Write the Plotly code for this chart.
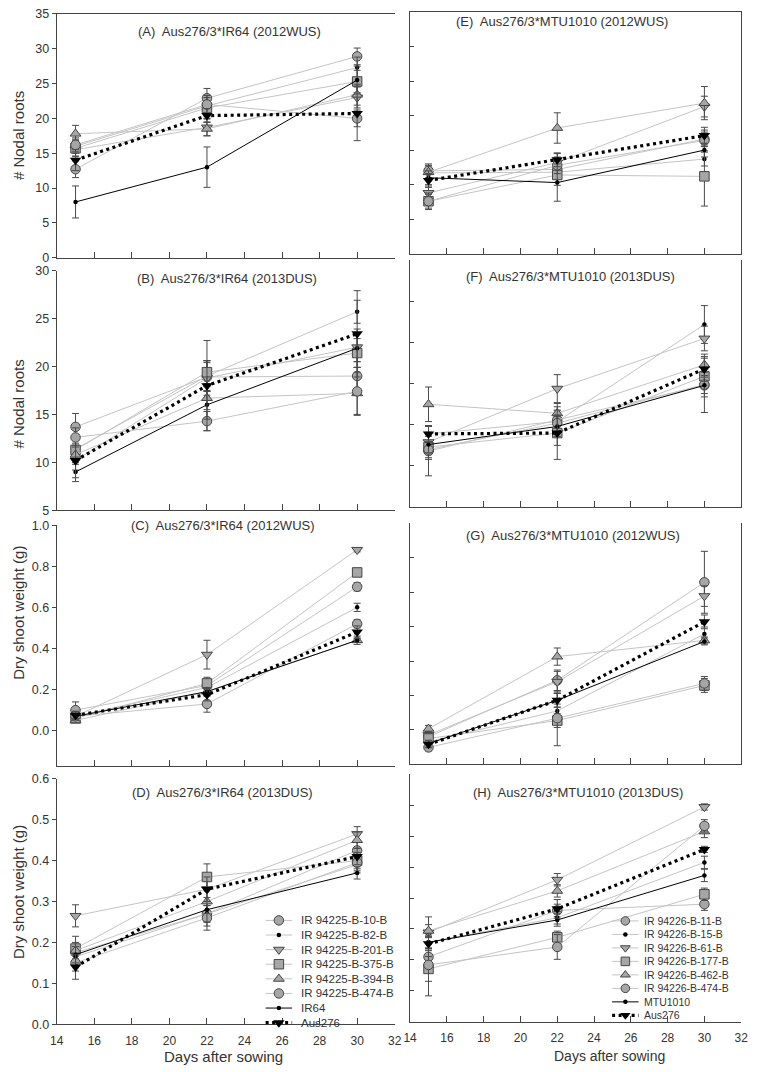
import plotly.graph_objects as go

days = [15, 22, 30]
ir64_names = ["IR 94225-B-10-B", "IR 94225-B-82-B", "IR 94225-B-201-B", "IR 94225-B-375-B",
              "IR 94225-B-394-B", "IR 94225-B-474-B", "IR64", "Aus276"]
mtu_names = ["IR 94226-B-11-B", "IR 94226-B-15-B", "IR 94226-B-61-B", "IR 94226-B-177-B",
             "IR 94226-B-462-B", "IR 94226-B-474-B", "MTU1010", "Aus276"]

# (A) nodal roots, Aus276/3*IR64, 2012WUS
roots_ir64_12 = [[12.7, 22.9, 28.9], [16.0, 21.8, 27.3], [15.5, 18.7, 23.0], [15.7, 21.5, 25.3],
                 [17.8, 18.5, 23.4], [16.2, 22.0, 20.0], [8.0, 13.0, 25.5], [14.0, 20.4, 20.7]]
roots_ir64_12_se = [[1.2, 1.4, 1.2], [1.0, 1.5, 1.5], [1.0, 1.2, 1.5], [1.1, 1.5, 1.6],
                    [1.2, 1.0, 1.5], [1.0, 1.3, 1.2], [2.3, 2.9, 2.0], [1.5, 1.0, 3.9]]
# (B) nodal roots, Aus276/3*IR64, 2013DUS
roots_ir64_13 = [[13.7, 18.9, 19.0], [11.4, 19.0, 25.7], [10.2, 18.8, 22.0], [11.3, 19.4, 21.4],
                 [10.8, 16.7, 17.2], [12.6, 14.3, 17.4], [9.0, 16.0, 21.9], [10.2, 18.0, 23.4]]
roots_ir64_13_se = [[1.4, 1.5, 1.5], [1.0, 1.6, 1.2], [1.0, 1.8, 1.5], [1.0, 1.2, 1.5],
                    [1.0, 1.2, 2.2], [1.0, 1.0, 2.5], [1.0, 1.5, 2.0], [1.8, 4.7, 4.5]]
# (C) dry shoot weight, Aus276/3*IR64, 2012WUS
dsw_ir64_12 = [[0.10, 0.22, 0.70], [0.07, 0.21, 0.60], [0.07, 0.37, 0.88], [0.06, 0.23, 0.77],
               [0.05, 0.19, 0.44], [0.07, 0.13, 0.52], [0.07, 0.19, 0.44], [0.075, 0.175, 0.48]]
dsw_ir64_12_se = [[0.04, 0.03, 0.02], [0.02, 0.03, 0.02], [0.02, 0.07, 0.01], [0.02, 0.03, 0.01],
                  [0.01, 0.02, 0.01], [0.02, 0.04, 0.02], [0.01, 0.02, 0.02], [0.02, 0.03, 0.03]]
# (D) dry shoot weight, Aus276/3*IR64, 2013DUS
dsw_ir64_13 = [[0.175, 0.27, 0.425], [0.165, 0.27, 0.39], [0.265, 0.33, 0.465], [0.185, 0.36, 0.40],
               [0.18, 0.30, 0.45], [0.15, 0.26, 0.395], [0.17, 0.28, 0.37], [0.14, 0.33, 0.41]]
dsw_ir64_13_se = [[0.02, 0.03, 0.02], [0.02, 0.02, 0.02], [0.027, 0.03, 0.018], [0.03, 0.032, 0.02],
                  [0.02, 0.03, 0.02], [0.02, 0.03, 0.02], [0.02, 0.03, 0.015], [0.03, 0.03, 0.02]]
# (E) nodal roots, Aus276/3*MTU1010, 2012WUS
roots_mtu_12 = [[12.0, 12.2, 16.6], [11.7, 11.8, 13.7], [8.8, 13.2, 21.3], [7.6, 11.4, 11.2],
                [11.8, 18.2, 21.8], [7.6, 12.8, 16.4], [11.0, 10.3, 15.0], [10.6, 13.6, 17.1]]
roots_mtu_12_se = [[1.0, 1.2, 1.0], [1.0, 1.0, 1.0], [1.0, 1.3, 1.5], [1.0, 1.5, 4.3],
                   [1.0, 2.2, 2.4], [1.2, 1.2, 1.5], [1.0, 2.7, 1.0], [1.0, 1.0, 1.2]]
# (F) nodal roots, Aus276/3*MTU1010, 2013DUS
roots_mtu_13 = [[6.8, 10.6, 14.8], [8.9, 10.4, 22.2], [7.9, 14.4, 20.5], [7.3, 9.0, 15.9],
                [12.5, 11.4, 17.3], [7.0, 10.2, 14.9], [7.6, 9.8, 14.8], [8.9, 9.0, 16.8]]
roots_mtu_13_se = [[3.0, 1.2, 3.3], [1.0, 1.3, 2.3], [1.2, 1.7, 1.5], [1.5, 1.5, 1.2],
                   [2.1, 1.2, 1.3], [1.0, 1.0, 1.5], [1.0, 1.2, 1.0], [1.0, 3.2, 1.5]]
# (G) dry shoot weight, Aus276/3*MTU1010, 2012WUS
dsw_mtu_12 = [[0.08, 0.244, 0.529], [0.065, 0.155, 0.379], [0.085, 0.24, 0.489], [0.075, 0.127, 0.229],
              [0.103, 0.313, 0.36], [0.049, 0.134, 0.235], [0.06, 0.186, 0.357], [0.058, 0.186, 0.414]]
dsw_mtu_12_se = [[0.01, 0.03, 0.09], [0.01, 0.02, 0.02], [0.01, 0.03, 0.03], [0.01, 0.02, 0.02],
                 [0.01, 0.025, 0.01], [0.01, 0.08, 0.02], [0.01, 0.02, 0.01], [0.01, 0.02, 0.02]]
# (H) dry shoot weight, Aus276/3*MTU1010, 2013DUS
dsw_mtu_13 = [[0.21, 0.36, 0.38], [0.257, 0.336, 0.515], [0.289, 0.459, 0.694], [0.171, 0.273, 0.412],
              [0.294, 0.423, 0.615], [0.184, 0.242, 0.633], [0.257, 0.329, 0.473], [0.252, 0.365, 0.557]]
dsw_mtu_13_se = [[0.02, 0.02, 0.02], [0.02, 0.02, 0.02], [0.05, 0.02, 0.01], [0.04, 0.02, 0.02],
                 [0.02, 0.02, 0.02], [0.10, 0.04, 0.02], [0.02, 0.02, 0.02], [0.02, 0.03, 0.01]]

W, H = 758, 1072
FONT = "Liberation Sans, Arial, sans-serif"
TXT = "#333333"


def dom_x(a, b):
    return [a / W, b / W]


def dom_y(top, bot):
    return [1 - bot / H, 1 - top / H]


# panel layout: title, data, x/y domain in px, y range, y ticks, side, title pos
panels = [
    ("(A)  Aus276/3*IR64 (2012WUS)", roots_ir64_12, roots_ir64_12_se,
     (50.7, 395), (7, 254), [0, 35], list(range(0, 36, 5)), "left", (227, 25)),
    ("(B)  Aus276/3*IR64 (2013DUS)", roots_ir64_13, roots_ir64_13_se,
     (50.7, 395), (267, 510), [5, 30], list(range(5, 31, 5)), "left", (224, 275)),
    ("(C)  Aus276/3*IR64 (2012WUS)", dsw_ir64_12, dsw_ir64_12_se,
     (50.7, 395), (525, 769.3), [-0.173, 1.0], [0, 0.2, 0.4, 0.6, 0.8, 1.0], "left", (220, 525)),
    ("(D)  Aus276/3*IR64 (2013DUS)", dsw_ir64_13, dsw_ir64_13_se,
     (50.7, 395), (782, 1030.7), [0, 0.6], [0, 0.1, 0.2, 0.3, 0.4, 0.5, 0.6], "left", (220, 796)),
    ("(E)  Aus276/3*MTU1010 (2012WUS)", roots_mtu_12, roots_mtu_12_se,
     (410.7, 748), (5, 250), [0, 35], list(range(5, 31, 5)), "right", (565, 15)),
    ("(F)  Aus276/3*MTU1010 (2013DUS)", roots_mtu_13, roots_mtu_13_se,
     (410.7, 748), (256.7, 506.7), [0, 30], list(range(5, 26, 5)), "right", (574, 273)),
    ("(G)  Aus276/3*MTU1010 (2012WUS)", dsw_mtu_12, dsw_mtu_12_se,
     (410.7, 748), (523.3, 767.3), [0, 0.7], [0.1, 0.2, 0.3, 0.4, 0.5, 0.6], "right", (577, 535)),
    ("(H)  Aus276/3*MTU1010 (2013DUS)", dsw_mtu_13, dsw_mtu_13_se,
     (410.7, 748), (777.3, 1028.3), [0, 0.8], [0.1, 0.2, 0.3, 0.4, 0.5, 0.6, 0.7], "right", (582, 796)),
]

symbols = ["circle", "circle", "triangle-down", "square", "triangle-up", "circle", "circle", "triangle-down"]
GRAY_LINE = "#c4c4c4"
MK_FILL = "#a6a6a6"
MK_EDGE = "#454545"


def series_style(i, scale=1.0):
    if i == 7:  # Aus276
        return dict(line=dict(color="black", width=3.2, dash="3px,3.5px"),
                    marker=dict(symbol="triangle-down", size=10 * scale, color="black"))
    if i == 6:  # recurrent parent
        return dict(line=dict(color="black", width=1),
                    marker=dict(symbol="circle", size=4.5, color="black"))
    if i == 1:
        return dict(line=dict(color=GRAY_LINE, width=1),
                    marker=dict(symbol="circle", size=4.5, color="black"))
    return dict(line=dict(color=GRAY_LINE, width=1),
                marker=dict(symbol=symbols[i], size=9.5 * scale, color=MK_FILL,
                            line=dict(color=MK_EDGE, width=1)))


fig = go.Figure()
annotations = []
for k, (title, vals, errs, xd, yd, yr, yt, side, tpos) in enumerate(panels):
    n = k + 1
    xa = "x" if n == 1 else f"x{n}"
    ya = "y" if n == 1 else f"y{n}"
    for i in range(8):
        st = series_style(i)
        fig.add_trace(go.Scatter(
            x=days, y=vals[i], mode="lines+markers",
            line=st["line"], marker=st["marker"],
            error_y=dict(type="data", array=errs[i], color="#4a4a4a", thickness=1, width=3.5),
            xaxis=xa, yaxis=ya, showlegend=False,
        ))
    bottom = k in (3, 7)
    xkw = dict(domain=dom_x(*xd), range=[14, 32], tickvals=list(range(14, 33, 2)),
               ticks="inside", ticklen=6, tickcolor="#444", showline=True, linecolor="#444",
               linewidth=1, showgrid=False, zeroline=False, anchor=ya,
               showticklabels=bottom, tickfont=dict(family=FONT, size=12, color=TXT),
               ticklabelstandoff=5, mirror=(k == 0 or k == 4))
    ykw = dict(domain=dom_y(*yd), range=yr, tickvals=yt, showline=True, linecolor="#444",
               linewidth=1, showgrid=False, zeroline=False, anchor=xa, tickcolor="#444",
               ticklen=4, tickfont=dict(family=FONT, size=12.5, color=TXT))
    if side == "left":
        ykw.update(ticks="outside", showticklabels=True)
        if yr[1] <= 1.0:
            ykw["tickformat"] = ".1f"
    else:
        ykw.update(ticks="inside", showticklabels=False, mirror=(k in (4, 5, 6)))
    fig.update_layout(**{("xaxis" if n == 1 else f"xaxis{n}"): xkw,
                         ("yaxis" if n == 1 else f"yaxis{n}"): ykw})
    annotations.append(dict(text=title, x=tpos[0] / W, y=1 - tpos[1] / H, xref="paper", yref="paper",
                            showarrow=False, xanchor="center", yanchor="middle",
                            font=dict(family=FONT, size=13, color=TXT)))

# axis titles
for text, yc in [("# Nodal roots", 130), ("# Nodal roots", 402),
                 ("Dry shoot weight (g)", 614), ("Dry shoot weight (g)", 897)]:
    annotations.append(dict(text=text, x=12 / W, y=1 - yc / H, xref="paper", yref="paper",
                            showarrow=False, textangle=-90, xanchor="center", yanchor="middle",
                            font=dict(family=FONT, size=15, color=TXT)))
for xc, fs in [(221, 15), (614, 14)]:
    annotations.append(dict(text="Days after sowing", x=xc / W, y=1 - 1063 / H, xref="paper",
                            yref="paper", showarrow=False, xanchor="center", yanchor="middle",
                            font=dict(family=FONT, size=fs, color=TXT)))

# legends drawn as keys on a full-page overlay axis (pixel units)
fig.update_layout(
    xaxis9=dict(domain=[0, 1], range=[0, W], visible=False, fixedrange=True, anchor="y9"),
    yaxis9=dict(domain=[0, 1], range=[H, 0], visible=False, fixedrange=True, anchor="x9"),
)
legend_specs = [
    (ir64_names, 277, 298, 925.5, 14.8, 11.5, 1.0),
    (mtu_names, 630, 646.7, 926.0, 13.67, 10.5, 0.9),
]
for names, sx, tx, y0, dy, fs, sc in legend_specs:
    for i, name in enumerate(names):
        yy = y0 + i * dy
        st = series_style(i, sc)
        fig.add_trace(go.Scatter(x=[sx - 13.5, sx + 13.5], y=[yy, yy], mode="lines", line=st["line"],
                                 xaxis="x9", yaxis="y9", showlegend=False, hoverinfo="skip"))
        fig.add_trace(go.Scatter(x=[sx], y=[yy], mode="markers", marker=st["marker"],
                                 xaxis="x9", yaxis="y9", showlegend=False, hoverinfo="skip"))
        annotations.append(dict(text=name, x=tx / W, y=1 - yy / H, xref="paper", yref="paper",
                                showarrow=False, xanchor="left", yanchor="middle",
                                font=dict(family=FONT, size=fs, color=TXT)))

fig.update_layout(
    width=W, height=H, autosize=False,
    margin=dict(l=0, r=0, t=0, b=0),
    paper_bgcolor="white", plot_bgcolor="rgba(0,0,0,0)",
    annotations=annotations,
    showlegend=False,
)

fig.write_html("out.html", config={"displayModeBar": False},
               post_script="document.body.style.margin='0px';")
